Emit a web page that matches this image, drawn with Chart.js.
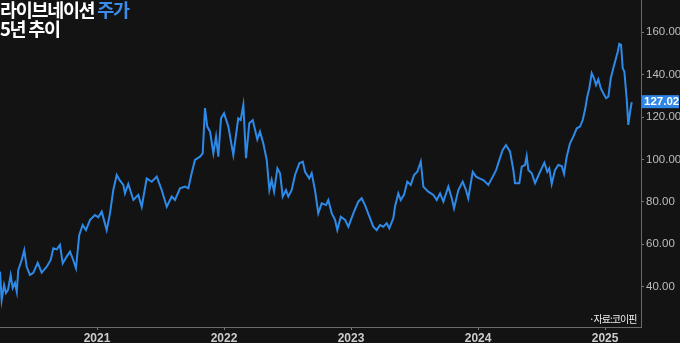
<!DOCTYPE html>
<html>
<head>
<meta charset="utf-8">
<script src="https://cdn.jsdelivr.net/npm/chart.js@4/dist/chart.umd.min.js"></script>
<style>
  html, body { margin: 0; padding: 0; background: #131313; }
  #wrap { position: relative; width: 680px; height: 343px; overflow: hidden; background: #131313; }
  #title { position: absolute; left: 0; top: 0; font-family: "Noto Sans CJK KR", sans-serif; font-weight: 700; font-size: 18.5px; line-height: 19px; letter-spacing: -1.3px; color: #ffffff; }
  #title .hl { color: #3b8ded; }
  #src { position: absolute; left: 589px; top: 311px; font-family: "Noto Sans CJK KR", sans-serif; font-size: 10px; color: #eeeeee; letter-spacing: -1px; }
</style>
</head>
<body>
<div id="wrap">
  <canvas id="c" width="680" height="343"></canvas>
  <div id="title">라이브네이션 <span class="hl">주가</span><br>5년 추이</div>
  <div id="src">·자료:코이핀</div>
</div>
<script>
// Dates as fractional years
const dates = [
2020.236,2020.249,2020.268,2020.283,2020.299,2020.320,2020.336,2020.354,2020.368,2020.380,
2020.407,2020.427,2020.446,2020.472,2020.498,2020.533,2020.564,2020.604,2020.635,2020.656,
2020.683,2020.708,2020.730,2020.761,2020.787,2020.808,2020.834,2020.860,2020.887,2020.913,
2020.945,2020.984,2021.010,2021.037,2021.076,2021.102,2021.128,2021.155,2021.181,2021.207,
2021.220,2021.246,2021.286,2021.325,2021.352,2021.391,2021.431,2021.470,2021.509,2021.549,
2021.588,2021.614,2021.653,2021.693,2021.719,2021.745,2021.771,2021.811,2021.832,2021.850,
2021.868,2021.890,2021.916,2021.937,2021.955,2021.976,2022.000,2022.034,2022.073,2022.112,
2022.131,2022.152,2022.173,2022.199,2022.226,2022.262,2022.283,2022.309,2022.336,2022.357,
2022.375,2022.394,2022.420,2022.441,2022.462,2022.488,2022.506,2022.533,2022.559,2022.593,
2022.620,2022.638,2022.671,2022.690,2022.716,2022.742,2022.769,2022.803,2022.821,2022.848,
2022.874,2022.892,2022.919,2022.953,2022.979,2023.018,2023.057,2023.084,2023.110,2023.149,
2023.175,2023.202,2023.228,2023.254,2023.281,2023.301,2023.333,2023.346,2023.372,2023.391,
2023.417,2023.443,2023.470,2023.496,2023.522,2023.549,2023.569,2023.608,2023.648,2023.675,
2023.701,2023.727,2023.766,2023.793,2023.811,2023.845,2023.879,2023.905,2023.923,2023.958,
2023.984,2024.010,2024.042,2024.081,2024.116,2024.142,2024.168,2024.194,2024.220,2024.252,
2024.278,2024.291,2024.325,2024.344,2024.370,2024.383,2024.396,2024.423,2024.449,2024.483,
2024.501,2024.522,2024.545,2024.561,2024.580,2024.606,2024.632,2024.659,2024.677,2024.698,
2024.724,2024.750,2024.777,2024.803,2024.824,2024.842,2024.860,2024.876,2024.895,2024.913,
2024.929,2024.947,2024.966,2024.986,2025.008,2025.026,2025.045,2025.065,2025.086,2025.100,
2025.112,2025.126,2025.139,2025.152,2025.171,2025.183,2025.197,2025.210
];
const prices = [
47.1,33.7,40.8,37.0,38.5,45.5,39.4,41.8,37.6,47.9,
52.6,57.3,49.4,45.5,46.5,51.3,46.6,49.4,52.6,58.1,
57.6,59.7,51.0,54.2,56.5,53.4,48.7,64.4,69.1,66.7,
71.5,73.8,72.7,75.4,66.7,74.6,85.6,92.7,90.0,88.0,
84.0,88.5,80.9,83.3,77.7,91.1,89.5,91.9,85.6,77.7,
82.5,80.9,86.4,87.2,86.4,93.5,99.8,101.3,102.9,124.2,
115.5,113.1,102.9,110.8,101.3,119.4,121.8,115.5,102.1,119.4,
118.6,125.7,100.6,117.1,118.6,109.5,113.1,107.6,99.8,85.6,
90.3,84.8,95.8,93.5,82.5,85.6,82.5,85.6,92.7,98.2,
99.0,94.2,91.1,93.5,85.6,74.6,79.3,78.5,80.9,74.6,
71.5,66.7,73.0,71.5,68.3,74.6,80.1,81.7,78.5,72.3,
68.3,66.7,69.1,68.3,69.9,67.5,72.3,77.7,84.0,80.9,
83.3,89.5,88.0,92.7,94.2,99.0,87.2,84.8,83.3,80.9,
84.0,80.1,87.2,81.7,77.0,85.6,89.5,85.6,81.7,94.2,
91.9,91.1,90.3,88.0,91.9,95.0,99.8,104.5,106.8,103.7,
95.0,88.8,88.8,96.6,97.4,101.6,95.0,93.5,88.8,93.5,
95.8,98.5,94.2,95.8,88.4,95.0,97.4,96.9,93.2,101.3,
107.6,110.8,114.7,115.5,118.6,123.3,129.6,133.6,140.7,138.3,
135.1,137.8,133.6,131.2,128.9,129.6,138.3,143.0,147.7,150.8,
154.5,154.0,143.0,141.4,128.1,116.3,122.5,127.02
];
const yearTicks = [2021, 2022, 2023, 2024, 2025];
const priceTicks = [40, 60, 80, 100, 120, 140, 160];
const lastLabel = "127.02";

const points = dates.map((d, i) => ({ x: d, y: prices[i] }));

const lastValuePlugin = {
  id: 'lastValue',
  afterDraw(chart) {
    const ctx = chart.ctx;
    const ys = chart.scales.y;
    const v = prices[prices.length - 1];
    const py = ys.getPixelForValue(v);
    const left = chart.chartArea.right + 1;
    ctx.save();
    ctx.fillStyle = '#2f86e6';
    ctx.fillRect(left, py - 7, 37, 13);
    ctx.fillStyle = '#ffffff';
    ctx.font = 'bold 11.5px "Liberation Sans", Arial, sans-serif';
    ctx.textBaseline = 'middle';
    ctx.textAlign = 'left';
    ctx.fillText(lastLabel, left + 2, py);
    ctx.restore();
  }
};

new Chart(document.getElementById('c'), {
  type: 'line',
  data: {
    datasets: [{
      data: points,
      borderColor: '#2e8ae8',
      borderWidth: 2,
      pointRadius: 0,
      tension: 0,
      fill: false
    }]
  },
  options: {
    responsive: false,
    animation: false,
    layout: { padding: 0 },
    plugins: { legend: { display: false }, tooltip: { enabled: false } },
    scales: {
      x: {
        type: 'linear',
        min: 2020.236,
        max: 2025.283,
        afterBuildTicks: (s) => { s.ticks = yearTicks.map(v => ({ value: v })); },
        afterFit: (s) => { s.height = 16; s.paddingLeft = 0; s.paddingRight = 0; },
        grid: { display: true, drawOnChartArea: false, drawTicks: true, tickLength: 3, color: '#777777' },
        border: { display: true, color: '#6a6a6a', width: 1 },
        ticks: {
          color: '#cccccc',
          padding: 1,
          font: { family: '"Liberation Sans", Arial, sans-serif', size: 12, weight: 'bold' },
          callback: (v) => String(v),
          maxRotation: 0,
          autoSkip: false
        }
      },
      y: {
        type: 'linear',
        position: 'right',
        min: 21,
        max: 175.2,
        afterBuildTicks: (s) => { s.ticks = priceTicks.map(v => ({ value: v })); },
        afterFit: (s) => { s.width = 39; s.paddingTop = 0; s.paddingBottom = 0; },
        grid: { display: true, drawOnChartArea: false, drawTicks: true, tickLength: 3, color: '#777777' },
        border: { display: true, color: '#6a6a6a', width: 1 },
        ticks: {
          color: '#bdbdbd',
          padding: 2,
          font: { family: '"Liberation Sans", Arial, sans-serif', size: 11.5 },
          callback: (v) => Number(v).toFixed(2)
        }
      }
    }
  },
  plugins: [lastValuePlugin]
});
</script>
</body>
</html>
